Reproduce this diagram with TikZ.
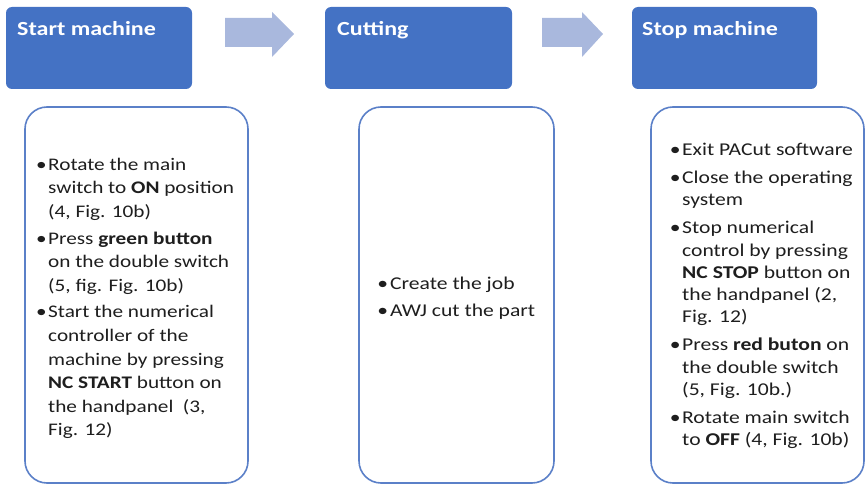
\documentclass[tikz,border=0pt]{standalone}
\usepackage{fontspec}
\setmainfont{Carlito}[FakeStretch=1.2]
\definecolor{hdrblue}{HTML}{4472C4}
\definecolor{boxblue}{HTML}{5B80C8}
\definecolor{arrowblue}{HTML}{A9B8DD}
\definecolor{txtgray}{HTML}{1E1E1E}
\newcommand{\bul}{\llap{\textbullet\hspace{1.5pt}}}
\newcommand{\bulsp}{\llap{\textbullet\hspace{2pt}}}
\newcommand{\topstrut}{\rule{0pt}{15pt}}
\tikzset{
  header/.style={draw=none, fill=hdrblue, rounded corners=6pt},
  hdrtext/.style={text=white, font=\fontsize{20}{24}\selectfont\bfseries, inner sep=0pt, anchor=base west},
  panel/.style={draw=boxblue, line width=1.6pt, fill=white, rounded corners=22pt},
  bodytext/.style={text=txtgray, inner sep=0pt, anchor=north west, align=left},
  blockarrow/.style={fill=arrowblue, draw=none}
}
\begin{document}
\begin{tikzpicture}[x=1pt,y=-1pt]
\useasboundingbox (0,0) rectangle (867,484);
\begin{scope}
\clip (0,0) rectangle (867,484);
% headers
\path[header] (6,7) rectangle (192,89);
\path[header] (325,7) rectangle (512,89);
\path[header] (632,7) rectangle (817,89);
\node[hdrtext] (h1) at (17,36) {Start machine};
\node[hdrtext] (h2) at (337,36) {Cutting};
\node[hdrtext] (h3) at (642,36) {Stop machine};
% block arrows
\fill[blockarrow] (225,18) -- (272,18) -- (272,12) -- (294,34) -- (272,57) -- (272,47) -- (225,47) -- cycle;
\fill[blockarrow] (542,18) -- (582,18) -- (582,12) -- (603,34) -- (582,57) -- (582,47) -- (542,47) -- cycle;
% panels
\path[panel] (25,107) rectangle (248,483);
\path[panel] (359,107) rectangle (554,483);
\path[panel] (651,107) rectangle (864,483);
\end{scope}
% panel texts (top = first baseline - 15)
\node[bodytext, font=\fontsize{17.7}{23.6}\selectfont] (t1) at (48,155) {\topstrut\bul Rotate the main\\
switch to \textbf{ON} position\\
(4, Fig. 10b)\\[3pt]
\bul Press \textbf{green button}\\
on the double switch\\
(5, fig. Fig. 10b)\\[3pt]
\bul Start the numerical\\
controller of the\\
machine by pressing\\
\textbf{NC START} button on\\
the handpanel~ (3,\\
Fig. 12)};
\node[bodytext, font=\fontsize{18}{22}\selectfont] (t2) at (390,274) {\topstrut\bulsp Create the job\\[5pt]
\bulsp AWJ cut the part};
\node[bodytext, font=\fontsize{18}{22.2}\selectfont] (t3) at (682,140) {\topstrut\bul Exit PACut software\\[6pt]
\bul Close the operating\\
system\\[6pt]
\bul Stop numerical\\
control by pressing\\
\textbf{NC STOP} button on\\
the handpanel (2,\\
Fig. 12)\\[6pt]
\bul Press \textbf{red buton} on\\
the double switch\\
(5, Fig. 10b.)\\[6pt]
\bul Rotate main switch\\
to \textbf{OFF} (4, Fig. 10b)};
\end{tikzpicture}
\end{document}
